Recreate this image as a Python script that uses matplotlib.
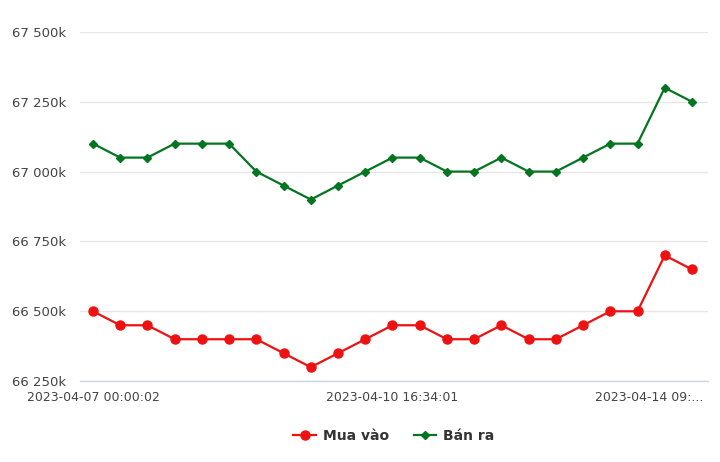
import numpy as np
import matplotlib; matplotlib.use("Agg"); import matplotlib.pyplot as plt
import matplotlib.transforms as mtransforms
from matplotlib.ticker import FuncFormatter

# prices in thousands (VND)
mua_vao = [66500, 66450, 66450, 66400, 66400, 66400, 66400, 66350, 66300, 66350, 66400, 66450,
           66450, 66400, 66400, 66450, 66400, 66400, 66450, 66500, 66500, 66700, 66650]
ban_ra = [67100, 67050, 67050, 67100, 67100, 67100, 67000, 66950, 66900, 66950, 67000, 67050,
          67050, 67000, 67000, 67050, 67000, 67000, 67050, 67100, 67100, 67300, 67250]
tick_pos = [0, 11, 22]
tick_labels = ["2023-04-07 00:00:02", "2023-04-10 16:34:01", "2023-04-14 09:..."]
y_ticks = [66250, 66500, 66750, 67000, 67250, 67500]

plt.rcParams['font.family'] = ['DejaVu Sans']
fig = plt.figure(figsize=(7.2, 4.62), dpi=100)
ax = fig.add_axes([0.111, 0.175, 0.872, 0.756])
x = np.arange(len(mua_vao))
ax.plot(x, mua_vao, color='#ee1111', lw=1.6, marker='o', ms=6.5, label='Mua vào', zorder=3, clip_on=False)
ax.plot(x, ban_ra, color='#037520', lw=1.6, marker='D', ms=4.5, label='Bán ra', zorder=3, clip_on=False)

ax.set_ylim(66250, 67500)
ax.set_xlim(-0.48, 22.58)
ax.set_yticks(y_ticks)
ax.yaxis.set_major_formatter(FuncFormatter(lambda v, p: f"{int(v):,}k".replace(",", " ")))
ax.grid(axis='y', color='#e6e6e6', lw=1)
ax.set_axisbelow(True)
for s in ['top', 'right', 'left']:
    ax.spines[s].set_visible(False)
ax.spines['bottom'].set_color('#ccd6eb')
ax.spines['bottom'].set_linewidth(1)
ax.set_xticks(tick_pos)
ax.set_xticklabels(tick_labels)
ax.tick_params(axis='y', length=0, pad=10, labelsize=9.5, colors='#444444')
ax.tick_params(axis='x', length=0, pad=7, labelsize=9, colors='#444444')
last = ax.get_xticklabels()[-1]
last.set_ha('right')
last.set_transform(last.get_transform() + mtransforms.ScaledTranslation(11/100, 0, fig.dpi_scale_trans))

leg = ax.legend(loc='upper center', bbox_to_anchor=(0.5, -0.10), ncol=2, frameon=False,
                fontsize=10, handlelength=1.6, columnspacing=1.8, handletextpad=0.5)
for t in leg.get_texts():
    t.set_fontweight('bold')
    t.set_color('#333333')

fig.savefig("out.png", dpi=100)
